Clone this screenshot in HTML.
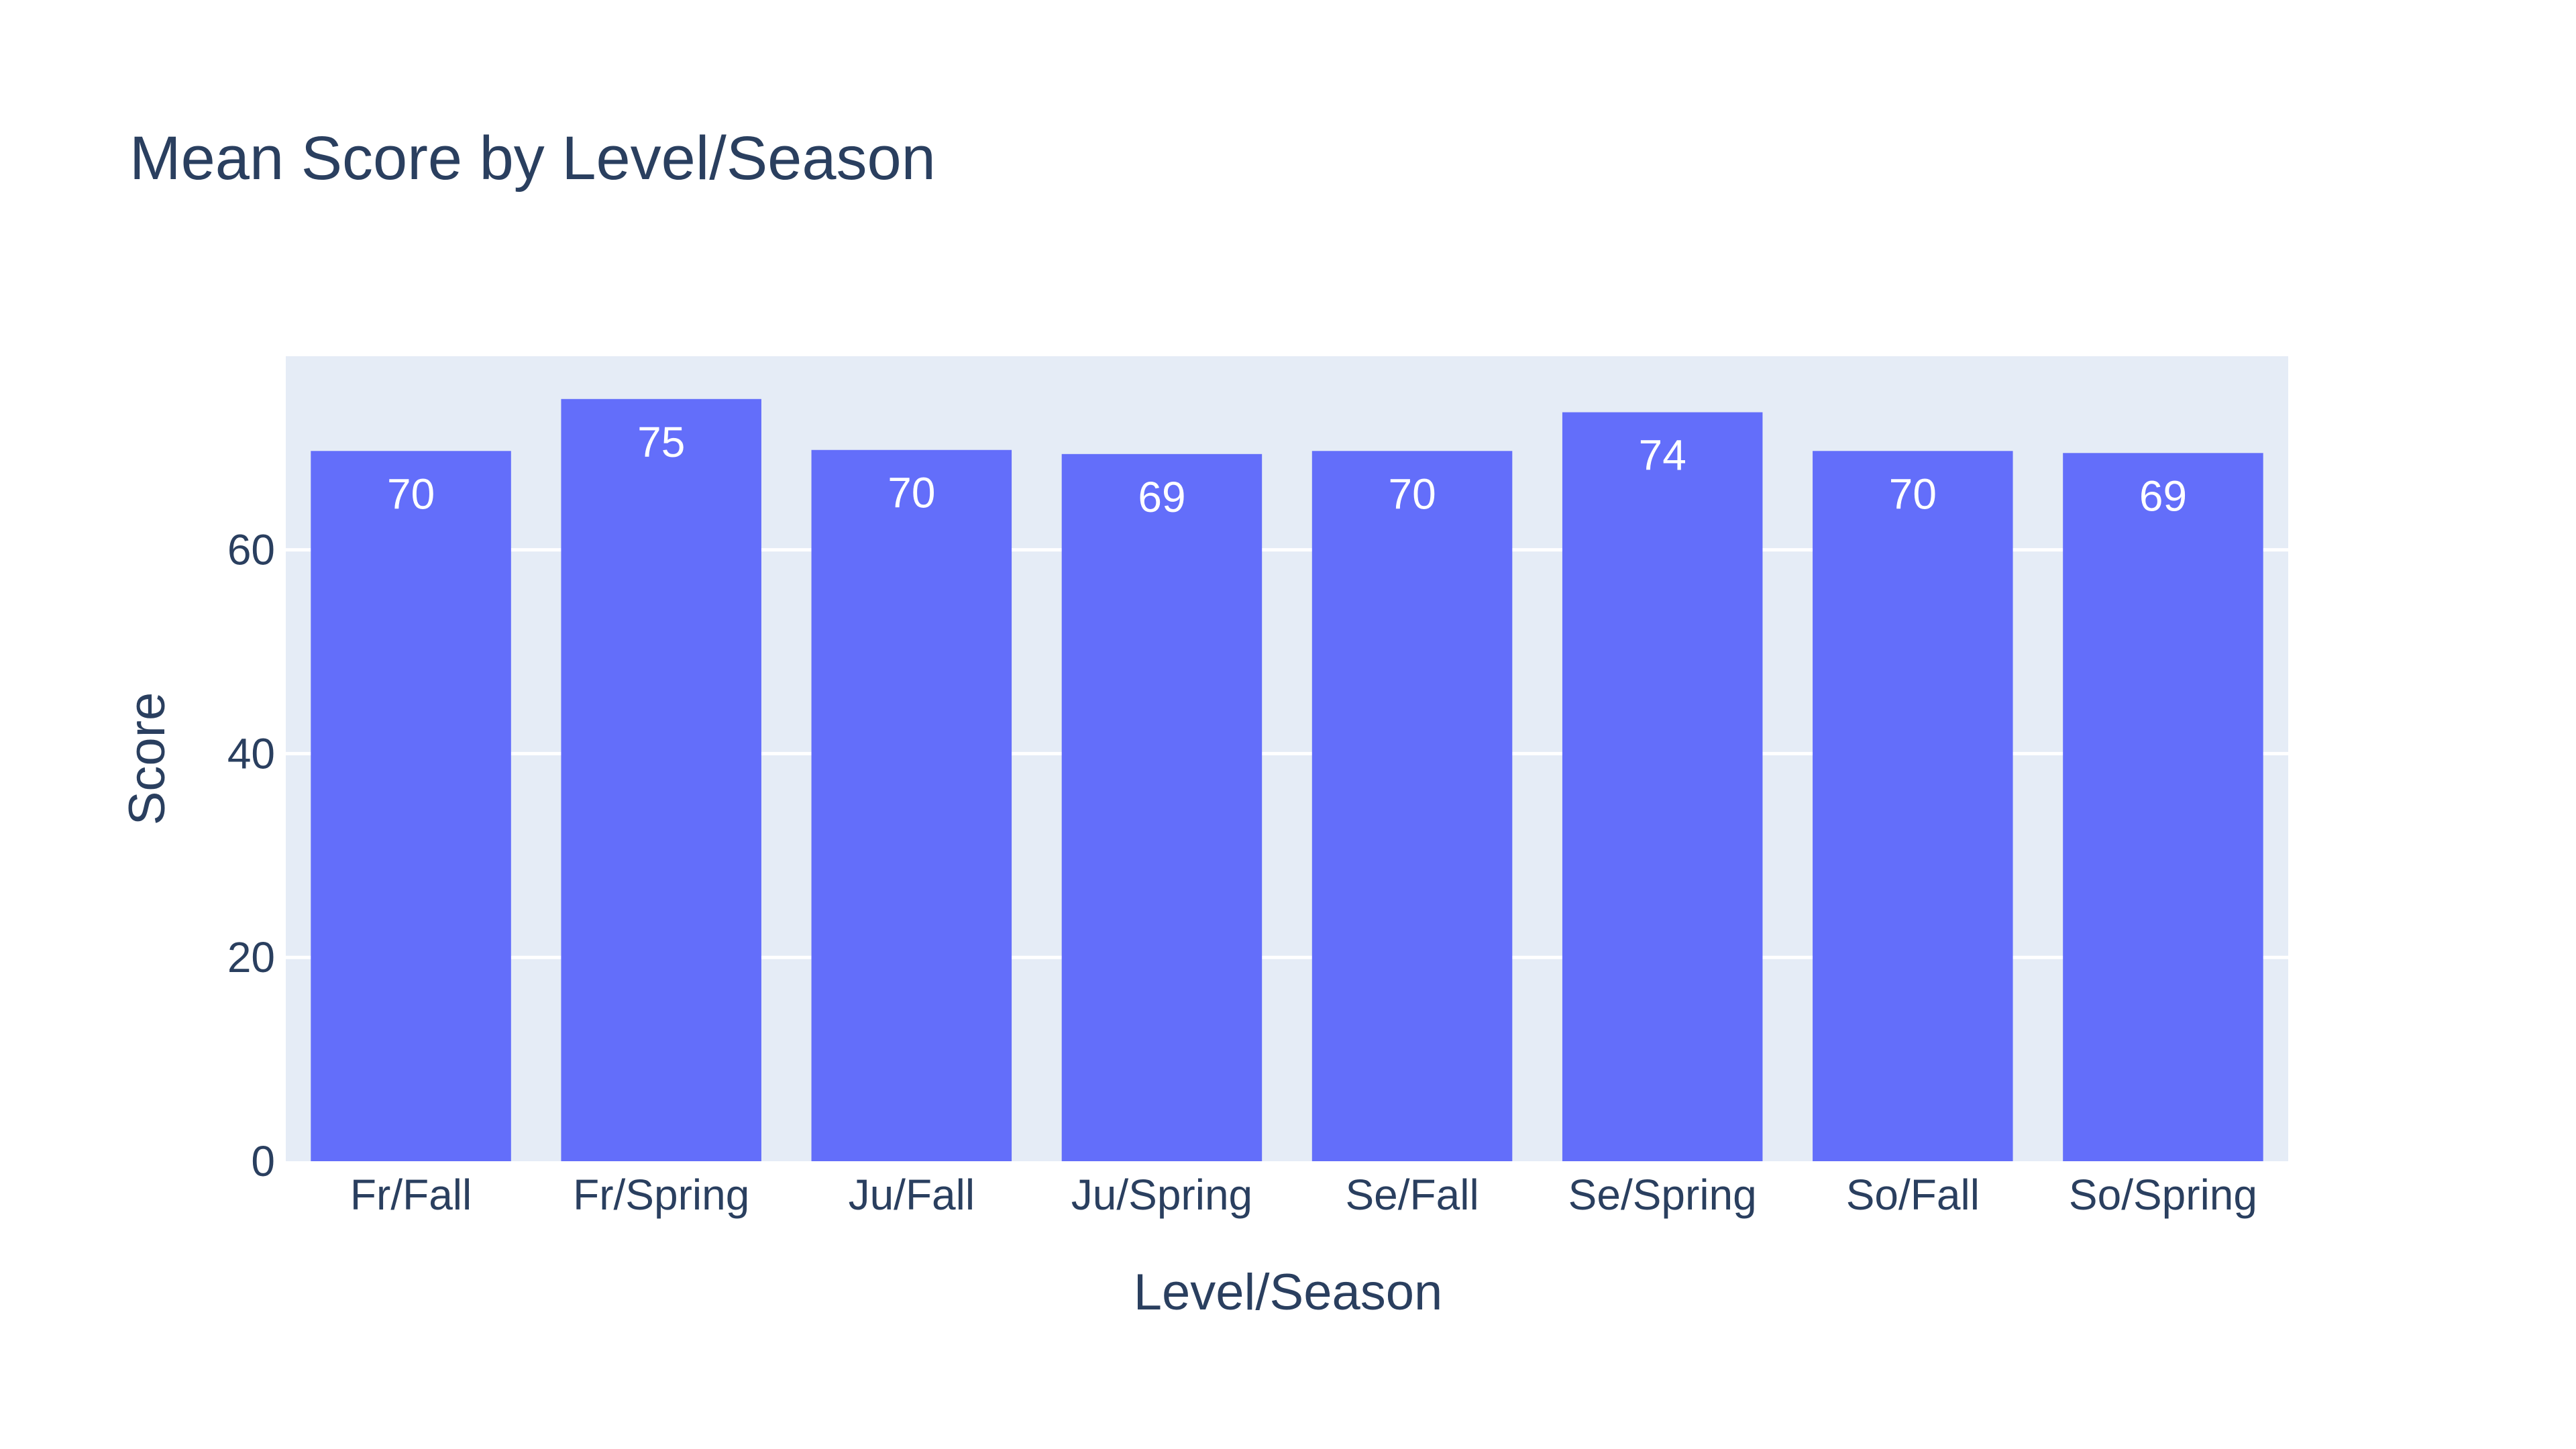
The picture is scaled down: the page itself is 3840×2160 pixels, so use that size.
<!DOCTYPE html>
<html><head><meta charset="utf-8"><style>
html,body{margin:0;padding:0;background:#fff;}
svg{display:block;font-family:"Liberation Sans",sans-serif;}
</style></head><body>
<svg id="chart" width="3840" height="2160" viewBox="0 0 3840 2160">
<rect x="0" y="0" width="3840" height="2160" fill="#fff"/>
<text x="193" y="267" font-size="92" fill="#2a3f5f">Mean Score by Level/Season</text>
<rect x="426" y="531" width="2985" height="1200" fill="#e5ecf6"/>
<g id="grid"></g><g id="bars"></g><g id="labels"></g><g id="yticks"></g><g id="xticks"></g>
<text x="1920" y="1952" font-size="76" fill="#2a3f5f" text-anchor="middle">Level/Season</text>
<text x="0" y="0" font-size="76" fill="#2a3f5f" text-anchor="middle" transform="translate(245,1131) rotate(-90)">Score</text>
</svg>
<script>
const categories = ["Fr/Fall","Fr/Spring","Ju/Fall","Ju/Spring","Se/Fall","Se/Spring","So/Fall","So/Spring"];
const values = [69.7, 74.8, 69.8, 69.4, 69.7, 73.5, 69.7, 69.5];
const valueLabels = ["70","75","70","69","70","74","70","69"];
const yTicks = [0, 20, 40, 60];
const yTickLabels = ["0","20","40","60"];

const NS = "http://www.w3.org/2000/svg";
const X0 = 426, X1 = 3411, Y0 = 1731, Y1 = 531, YMAX = 79;
function yScale(v){ return Y0 - (v / YMAX) * (Y0 - Y1); }
function xBand(i){ return X0 + (i + 0.5) * (X1 - X0) / categories.length; }
const bw = 0.8 * (X1 - X0) / categories.length;
function mk(tag, attrs, parent){ const e = document.createElementNS(NS, tag); for (const k in attrs) e.setAttribute(k, attrs[k]); document.getElementById(parent).appendChild(e); return e; }

yTicks.forEach((t, i) => {
  if (t !== 0) {
    const g = mk("line", {x1:X0, x2:X1, y1:yScale(t), y2:yScale(t), stroke:"#fff", "stroke-width":5}, "grid");
    
    
  }
  const l = mk("text", {x:410, y:yScale(t)+22, "font-size":64, fill:"#2a3f5f", "text-anchor":"end"}, "yticks");
  l.textContent = yTickLabels[i];
  
  
});

categories.forEach((c, i) => {
  const cx = xBand(i), top = yScale(values[i]);
  const r = mk("rect", {x:cx-bw/2, y:top, width:bw, height:Y0-top, fill:"#636efa"}, "bars");
  
  
  const t = mk("text", {x:cx, y:top+86, "font-size":64, fill:"#fff", "text-anchor":"middle"}, "labels");
  t.textContent = valueLabels[i];
  
  
  const xl = mk("text", {x:cx, y:1803, "font-size":64, fill:"#2a3f5f", "text-anchor":"middle"}, "xticks");
  xl.textContent = c;
  
  
});
</script>
</body></html>
